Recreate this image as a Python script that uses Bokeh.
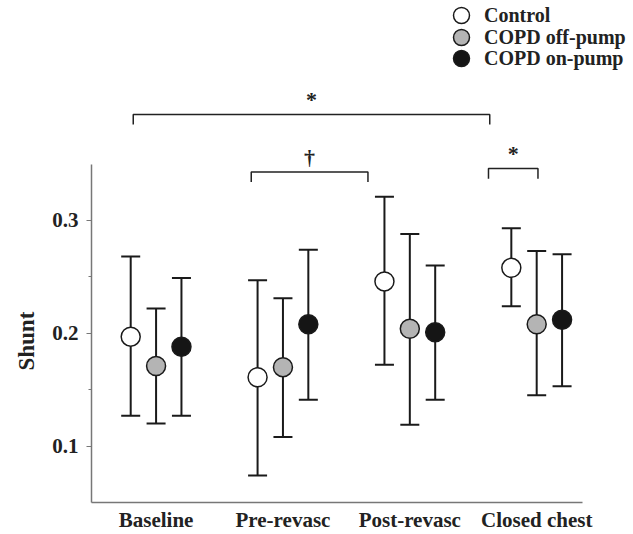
from bokeh.plotting import figure
from bokeh.models import (ColumnDataSource, Whisker, TeeHead, FixedTicker, Range1d,
                          Legend, LegendItem, Title)
from bokeh.core.properties import value
from bokeh.embed import file_html
from bokeh.resources import INLINE

# ---------------- data ----------------
categories = ["Baseline", "Pre-revasc", "Post-revasc", "Closed chest"]
series_names = ["Control", "COPD off-pump", "COPD on-pump"]

control_mean = [0.197, 0.161, 0.246, 0.258]
control_upper = [0.268, 0.247, 0.321, 0.293]
control_lower = [0.127, 0.074, 0.172, 0.224]

offpump_mean = [0.171, 0.170, 0.204, 0.208]
offpump_upper = [0.222, 0.231, 0.288, 0.273]
offpump_lower = [0.120, 0.108, 0.119, 0.145]

onpump_mean = [0.188, 0.208, 0.201, 0.212]
onpump_upper = [0.249, 0.274, 0.260, 0.270]
onpump_lower = [0.127, 0.141, 0.141, 0.153]

y_ticks = [0.1, 0.2, 0.3]
y_minor_ticks = [0.15, 0.25]

# significance brackets (x in category units, y in Shunt units)
bracket_x0 = [0.82, 1.75, 3.62]
bracket_x1 = [3.63, 2.67, 4.01]
bracket_y = [0.394, 0.343, 0.346]
bracket_labels = ["*", "\u2020", "*"]

# ---------------- styling ----------------
FONT = "Liberation Serif"
fills = ["#ffffff", "#b4b4b4", "#151515"]
offsets = [-0.2, 0.0, 0.2]
means = [control_mean, offpump_mean, onpump_mean]
uppers = [control_upper, offpump_upper, onpump_upper]
lowers = [control_lower, offpump_lower, onpump_lower]

W, H = 633, 534
LEFT, BOTTOM = 90, 30
X0, X1 = 0.491, 4.763
p = figure(width=W, height=H,
           x_range=Range1d(X0, X1), y_range=Range1d(0.05, 0.495),
           output_backend="svg", toolbar_location=None,
           min_border_left=LEFT, min_border_right=0, min_border_top=0,
           min_border_bottom=BOTTOM)
p.outline_line_color = None
p.xgrid.visible = False
p.ygrid.visible = False
p.background_fill_color = "white"

renderers = []
for k in range(3):
    xs = [i + 1 + offsets[k] for i in range(len(categories))]
    src = ColumnDataSource(dict(x=xs, y=means[k], upper=uppers[k], lower=lowers[k]))
    w = Whisker(base="x", upper="upper", lower="lower", source=src,
                line_width=2, line_color="#1a1a1a", level="underlay",
                upper_head=TeeHead(size=19, line_width=2, line_color="#1a1a1a"),
                lower_head=TeeHead(size=19, line_width=2, line_color="#1a1a1a"))
    p.add_layout(w)
    r = p.scatter("x", "y", source=src, size=19, marker="circle",
                  fill_color=fills[k], line_color="#1a1a1a", line_width=1.5)
    renderers.append(r)

# brackets
bx, by = [], []
drop = 0.009
for x0, x1, yy in zip(bracket_x0, bracket_x1, bracket_y):
    bx.append([x0, x0, x1, x1])
    by.append([yy - drop, yy, yy, yy - drop])
p.multi_line(bx, by, line_color="#222222", line_width=1.5)

lab_x = [(a + b) / 2 for a, b in zip(bracket_x0, bracket_x1)]
lab_y = [yy + 0.013 for yy in bracket_y]
p.text(lab_x, lab_y, text=bracket_labels, text_font=value(FONT),
       text_font_style="bold", text_font_size="22px", text_align="center",
       text_baseline="middle", text_color="#222222")

# axes
xa = p.xaxis[0]
xa.bounds = (0.491, 4.362)
xa.ticker = FixedTicker(ticks=[1, 2, 3, 4])
xa.major_label_overrides = {i + 1: c for i, c in enumerate(categories)}
xa.major_tick_out = 0
xa.major_tick_in = 0
xa.minor_tick_out = 0
xa.minor_tick_in = 0
xa.major_label_standoff = 5
xa.axis_line_color = "#777777"
xa.axis_line_width = 1.5
xa.major_label_text_font = FONT
xa.major_label_text_font_style = "bold"
xa.major_label_text_font_size = "21px"
xa.major_label_text_color = "#222222"

ya = p.yaxis[0]
ya.bounds = (0.05, 0.35)
ya.ticker = FixedTicker(ticks=y_ticks, minor_ticks=y_minor_ticks)
ya.major_tick_out = 5
ya.major_tick_in = 0
ya.minor_tick_out = 3
ya.minor_tick_in = 0
ya.axis_line_color = "#777777"
ya.axis_line_width = 1.5
ya.major_tick_line_color = "#777777"
ya.minor_tick_line_color = "#777777"
ya.major_label_standoff = 8
ya.major_label_text_font = FONT
ya.major_label_text_font_style = "bold"
ya.major_label_text_font_size = "21px"
ya.major_label_text_color = "#222222"

# y-axis title as a left-side title, shifted up from the bottom of the frame
p.add_layout(Title(text="Shunt", align="left", offset=132, standoff=22,
                   text_font=FONT, text_font_style="bold",
                   text_font_size="23px", text_color="#222222"), "left")

# legend: one single-item legend per row, stacked 21 px apart
row_centers_from_bottom = [H - BOTTOM - 17, H - BOTTOM - 39, H - BOTTOM - 60]
for name, r, cy in zip(series_names, renderers, row_centers_from_bottom):
    lg = Legend(items=[LegendItem(label=name, renderers=[r])],
                location=(350, cy - 20), glyph_width=40, glyph_height=40,
                padding=0, margin=0, label_standoff=3,
                border_line_color=None, background_fill_alpha=0,
                label_text_font=FONT, label_text_font_style="bold",
                label_text_font_size="20px", label_text_color="#222222")
    p.add_layout(lg)

open("out.html", "w").write(file_html(p, INLINE))
